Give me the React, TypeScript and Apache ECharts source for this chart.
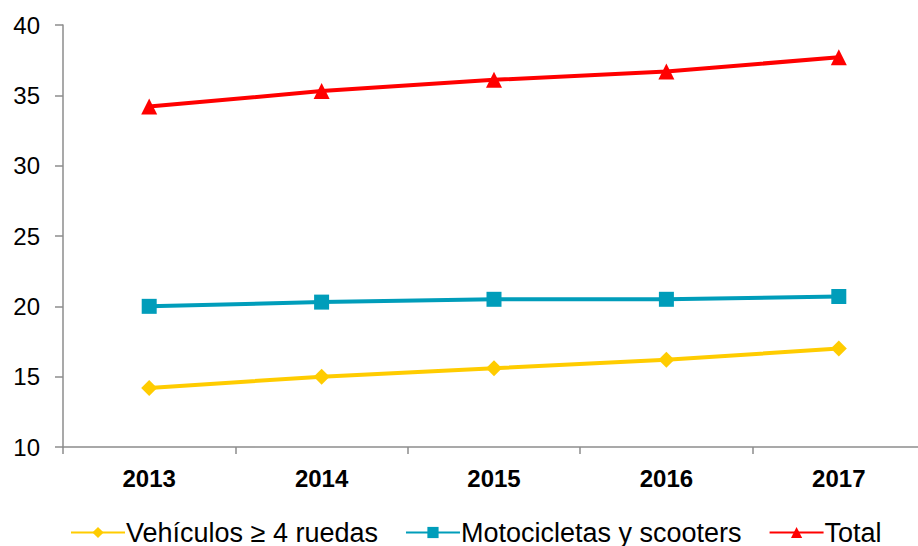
import React, { useEffect, useRef } from "react";
import * as echarts from "echarts";

const categories = ["2013", "2014", "2015", "2016", "2017"];
const vehiculos = [14.2, 15.0, 15.6, 16.2, 17.0];
const motos = [20.0, 20.3, 20.5, 20.5, 20.7];
const total = [34.2, 35.3, 36.1, 36.7, 37.7];
const seriesNames = ["Vehículos ≥ 4 ruedas", "Motocicletas y scooters", "Total"];

const FONT = "'Liberation Sans', Arial, sans-serif";

export default function App() {
  const ref = useRef<HTMLDivElement>(null);
  useEffect(() => {
    if (!ref.current) return;
    const chart = echarts.init(ref.current, null, { renderer: "svg" });
    const mk = (name: string, data: number[], color: string, symbol: string, size: number) => ({
      name,
      type: "line",
      data,
      symbol,
      symbolSize: size,
      showSymbol: true,
      lineStyle: { color, width: 4 },
      itemStyle: { color },
    });
    chart.setOption({
      animation: false,
      backgroundColor: "#ffffff",
      textStyle: { fontFamily: FONT },
      grid: { left: 63, top: 25, right: 0, bottom: 99, containLabel: false },
      xAxis: {
        type: "category",
        data: categories,
        boundaryGap: true,
        axisLine: { lineStyle: { color: "#8c8c8c", width: 1.5 } },
        axisTick: { show: true, length: 7, lineStyle: { color: "#8c8c8c", width: 1.5 } },
        axisLabel: { color: "#000", fontSize: 24, fontWeight: "bold", fontFamily: FONT, margin: 19 },
        splitLine: { show: false },
      },
      yAxis: {
        type: "value",
        min: 10,
        max: 40,
        interval: 5,
        axisLine: { show: true, lineStyle: { color: "#8c8c8c", width: 1.5 } },
        axisTick: { show: true, length: 8, lineStyle: { color: "#8c8c8c", width: 1.5 } },
        axisLabel: { color: "#000", fontSize: 24, fontFamily: FONT, margin: 23 },
        splitLine: { show: false },
      },
      legend: {
        left: 70,
        top: 519,
        padding: 0,
        itemWidth: 54,
        itemHeight: 14,
        itemGap: 27,
        textStyle: { fontSize: 27, color: "#000", fontFamily: FONT, padding: [0, 0, 0, -4] },
        data: seriesNames,
      },
      series: [
        mk(seriesNames[0], vehiculos, "#FFCC00", "diamond", 16),
        mk(seriesNames[1], motos, "#009DBA", "rect", 15),
        mk(seriesNames[2], total, "#FF0000", "triangle", 16),
      ],
    });
    return () => chart.dispose();
  }, []);
  return (
    <div style={{ position: "fixed", left: 0, top: 0, width: 918, height: 546, overflow: "hidden", background: "#fff" }}>
      <div ref={ref} style={{ width: 925, height: 546 }} />
    </div>
  );
}
